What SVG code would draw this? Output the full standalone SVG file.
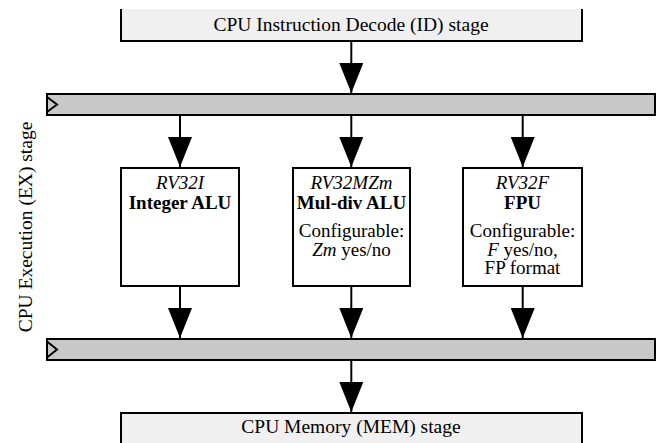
<svg xmlns="http://www.w3.org/2000/svg" width="664" height="443" viewBox="0 0 664 443" font-family="Liberation Serif, 'Times New Roman', serif" font-size="19.5">
  <defs>
    <marker id="arr" viewBox="0 0 30 24" refX="30" refY="12" markerWidth="30" markerHeight="24" orient="auto" markerUnits="userSpaceOnUse">
      <path d="M0,0 L30,12 L0,24 z" fill="#000"/>
    </marker>
    <style>
      .c { text-anchor: middle; }
      .i { font-style: italic; }
      .b { font-weight: bold; }
      .t { font-size: 19px; }
      .stage { fill: #f0f0f0; }
      .edge { fill: none; stroke: #000; stroke-width: 2; }
      .bar { fill: #c8c8c8; stroke: #000; stroke-width: 2; }
      .alu { fill: #fff; stroke: #000; stroke-width: 2; }
      .conn { stroke: #000; stroke-width: 2; fill: none; marker-end: url(#arr); }
    </style>
  </defs>
  <rect width="664" height="443" fill="#fff"/>

  <g id="id-stage">
    <rect class="stage" x="121" y="9" width="461" height="32"/>
    <path class="edge" d="M121,9 V41 H582 V9"/>
    <text class="c" x="351" y="31">CPU Instruction Decode (ID) stage</text>
  </g>

  <g id="ex-label">
    <text class="c" transform="translate(32,227) rotate(-90)">CPU Execution (EX) stage</text>
  </g>

  <g id="pipe-reg-top">
    <rect class="bar" x="47" y="94" width="608" height="21"/>
    <path class="edge" d="M47,97 L57,104.5 L47,112"/>
  </g>

  <g id="alu-int">
    <rect class="alu" x="121" y="168" width="118" height="118"/>
    <text class="c i t" x="180" y="189">RV32I</text>
    <text class="c b t" x="180" y="208.5">Integer ALU</text>
  </g>

  <g id="alu-muldiv">
    <rect class="alu" x="293" y="168" width="117" height="118"/>
    <text class="c i t" x="351.5" y="189">RV32MZm</text>
    <text class="c b t" x="351.5" y="208.5">Mul-div ALU</text>
    <text class="c t" x="351.5" y="237">Configurable:</text>
    <text class="c t" x="351.5" y="255.5"><tspan class="i">Zm</tspan> yes/no</text>
  </g>

  <g id="fpu">
    <rect class="alu" x="463" y="168" width="119" height="118"/>
    <text class="c i t" x="522.5" y="189">RV32F</text>
    <text class="c b t" x="522.5" y="208.5">FPU</text>
    <text class="c t" x="522.5" y="237">Configurable:</text>
    <text class="c t" x="522.5" y="255.5"><tspan class="i">F</tspan> yes/no,</text>
    <text class="c t" x="522.5" y="274">FP format</text>
  </g>

  <g id="pipe-reg-bottom">
    <rect class="bar" x="47" y="339" width="608" height="21"/>
    <path class="edge" d="M47,341.5 L57,349.5 L47,357.5"/>
  </g>

  <g id="mem-stage">
    <rect class="stage" x="121" y="413" width="461" height="40"/>
    <path class="edge" d="M121,453 V413 H582 V453"/>
    <text class="c" x="351" y="433">CPU Memory (MEM) stage</text>
  </g>

  <g id="connectors">
    <line class="conn" x1="351.3" y1="42" x2="351.3" y2="93"/>
    <line class="conn" x1="180" y1="116" x2="180" y2="167"/>
    <line class="conn" x1="351.3" y1="116" x2="351.3" y2="167"/>
    <line class="conn" x1="522.7" y1="116" x2="522.7" y2="167"/>
    <line class="conn" x1="180" y1="287" x2="180" y2="338"/>
    <line class="conn" x1="351.3" y1="287" x2="351.3" y2="338"/>
    <line class="conn" x1="522.7" y1="287" x2="522.7" y2="338"/>
    <line class="conn" x1="351.3" y1="361" x2="351.3" y2="412"/>
  </g>
</svg>
